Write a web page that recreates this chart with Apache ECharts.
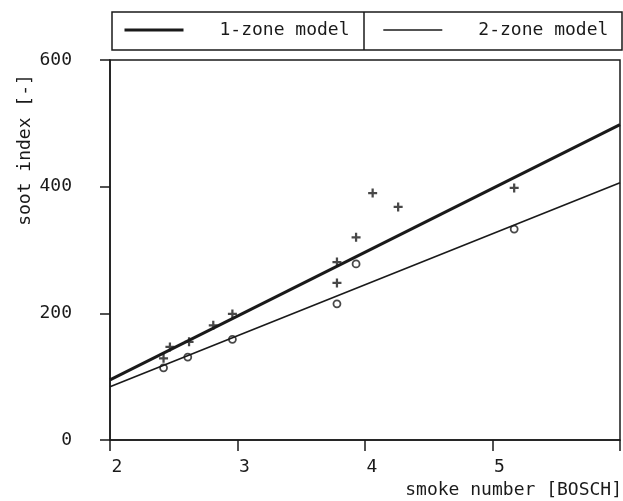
<!DOCTYPE html>
<html>
<head>
<meta charset="utf-8">
<script src="https://cdn.jsdelivr.net/npm/echarts@6/dist/echarts.min.js"></script>
<style>html,body{margin:0;padding:0;background:#fff;}#c{width:623px;height:501px;}</style>
</head>
<body>
<div id="c"></div>
<script>
// data
const xTicks = [2, 3, 4, 5, 6];
const yTicks = [0, 200, 400, 600];
const lineX = [2, 6];
const oneZone = [95, 498];
const twoZone = [84, 406];
const crossX = [2.42, 2.47, 2.62, 2.81, 2.96, 3.78, 3.78, 3.93, 4.06, 4.26, 5.17];
const crossY = [129, 147, 155, 181, 199, 281, 248, 320, 390, 368, 398];
const circleX = [2.42, 2.61, 2.96, 3.78, 3.93, 5.17];
const circleY = [114, 131, 159, 215, 278, 333];
const seriesNames = ['1-zone model', '2-zone model'];
const xName = 'smoke number [BOSCH]';
const yName = 'soot index [-]';

const FONT = '"DejaVu Sans Mono", monospace';
const INK = '#1a1a1a';
const pair = (xs, ys) => xs.map((x, i) => [x, ys[i]]);

const chart = echarts.init(document.getElementById('c'), null, {renderer: 'canvas'});
chart.setOption({
  animation: false,
  backgroundColor: '#fff',
  textStyle: {fontFamily: FONT, color: INK},
  grid: {left: 110, right: 3, top: 60, bottom: 61, show: true, borderColor: INK, borderWidth: 1.5, outerBoundsMode: 'none'},
  legend: {
    left: 118, top: 16, padding: 5,
    itemWidth: 59, itemHeight: 14, itemGap: 33,
    data: [
      {name: seriesNames[0], lineStyle: {width: 3, color: INK}},
      {name: seriesNames[1], lineStyle: {width: 1.5, color: INK}}
    ],
    itemStyle: {color: 'rgba(0,0,0,0)', borderColor: 'rgba(0,0,0,0)', borderWidth: 0},
    textStyle: {fontFamily: FONT, fontSize: 18, color: INK, padding: [2, 0, 0, 31]}
  },
  xAxis: {
    type: 'value', min: xTicks[0], max: xTicks[xTicks.length - 1], interval: 1,
    axisLine: {lineStyle: {color: INK, width: 1.5}},
    axisTick: {show: true, inside: false, length: 11, lineStyle: {color: INK, width: 1.5}},
    axisLabel: {fontFamily: FONT, fontSize: 18, color: INK, margin: 18, padding: [0, 0, 0, 14],
      formatter: v => (v === 6 ? '' : String(v))},
    splitLine: {show: false}
  },
  yAxis: {
    type: 'value', min: yTicks[0], max: yTicks[yTicks.length - 1], interval: 200,
    axisLine: {lineStyle: {color: INK, width: 1.5}},
    axisTick: {show: true, inside: false, length: 10, lineStyle: {color: INK, width: 1.5}},
    axisLabel: {fontFamily: FONT, fontSize: 18, color: INK, margin: 38},
    splitLine: {show: false}
  },
  graphic: [
    {type: 'rect', shape: {x: 112, y: 12, width: 510, height: 38}, style: {fill: 'none', stroke: INK, lineWidth: 1.5}, z: 10},
    {type: 'line', shape: {x1: 364, y1: 12, x2: 364, y2: 50}, style: {stroke: INK, lineWidth: 1.5}, z: 10},
    {type: 'text', x: 25, y: 150, rotation: Math.PI / 2,
      style: {text: yName, font: '18px ' + FONT, fill: INK, textAlign: 'center', textVerticalAlign: 'middle'}},
    {type: 'text', x: 622, y: 490,
      style: {text: xName, font: '18px ' + FONT, fill: INK, textAlign: 'right', textVerticalAlign: 'middle'}}
  ],
  series: [
    {name: seriesNames[0], type: 'line', data: pair(lineX, oneZone), symbol: 'none',
      lineStyle: {color: INK, width: 3}, itemStyle: {color: INK}},
    {name: seriesNames[1], type: 'line', data: pair(lineX, twoZone), symbol: 'none',
      lineStyle: {color: INK, width: 1.6}, itemStyle: {color: INK}},
    {name: 'measured 1-zone', type: 'scatter', data: pair(crossX, crossY),
      symbol: 'path://M-1,-4H1V-1H4V1H1V4H-1V1H-4V-1H-1Z', symbolSize: 9,
      itemStyle: {color: INK}},
    {name: 'measured 2-zone', type: 'scatter', data: pair(circleX, circleY),
      symbol: 'circle', symbolSize: 7,
      itemStyle: {color: '#fff', borderColor: INK, borderWidth: 1.8}}
  ]
});
</script>
</body>
</html>
